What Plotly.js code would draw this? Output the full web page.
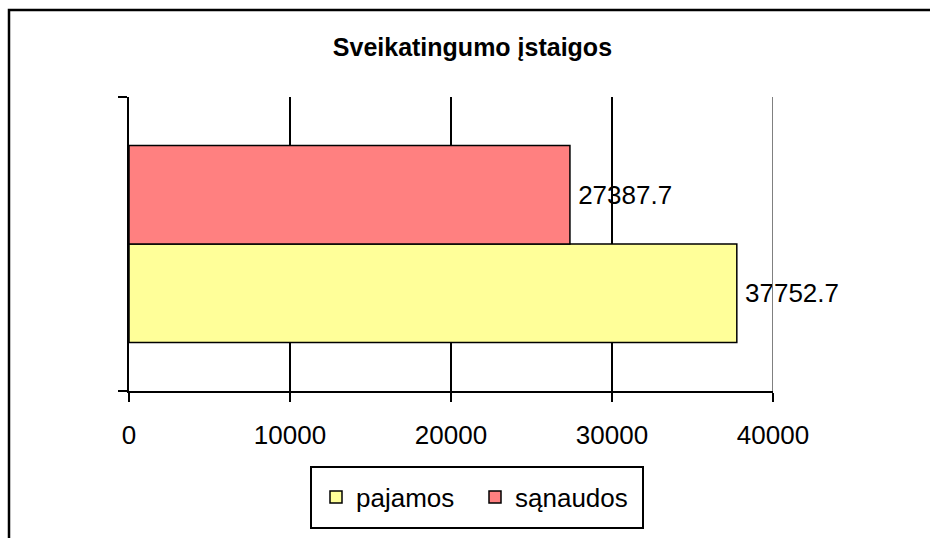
<!DOCTYPE html>
<html>
<head>
<meta charset="utf-8">
<script src="https://cdn.plot.ly/plotly-3.0.1.min.js"></script>
<style>
html,body{margin:0;padding:0;background:#fff;}
#chart{width:930px;height:538px;}
</style>
</head>
<body>
<div id="chart"></div>
<script>
var categories = ["Sveikatingumo įstaigos"];
var seriesNames = ["pajamos", "sąnaudos"];
var pajamos = [37752.7];
var sanaudos = [27387.7];
var xTickValues = [0, 10000, 20000, 30000, 40000];
var xTickLabels = ["0", "10000", "20000", "30000", "40000"];

var FONT = "Liberation Sans, Arial, sans-serif";
var W = 930, H = 538;
var m = {l: 129, r: 157, t: 97, b: 147};
var pw = W - m.l - m.r, ph = H - m.t - m.b;
function px2x(px){ return (px - m.l) / pw; }
function py2y(py){ return (H - m.b - py) / ph; }

var traces = [
  {
    type: "bar", orientation: "h", name: seriesNames[0],
    y: categories, x: pajamos,
    text: pajamos.map(function(v){ return "\u2009" + v; }), textposition: "outside", cliponaxis: false,
    textfont: {family: FONT, size: 26, color: "#000"},
    marker: {color: "#FFFF99", line: {color: "#000", width: 1.5}}
  },
  {
    type: "bar", orientation: "h", name: seriesNames[1],
    y: categories, x: sanaudos,
    text: sanaudos.map(function(v){ return "\u2009" + v; }), textposition: "outside", cliponaxis: false,
    textfont: {family: FONT, size: 26, color: "#000"},
    marker: {color: "#FF8080", line: {color: "#000", width: 1.5}}
  }
];

var layout = {
  width: W, height: H,
  margin: m,
  paper_bgcolor: "#fff", plot_bgcolor: "#fff",
  font: {family: FONT, color: "#000"},
  title: {
    text: "<b>" + categories[0] + "</b>",
    font: {family: FONT, size: 25, color: "#000"},
    x: 0.508, xref: "container", xanchor: "center",
    y: 1 - 47 / H, yref: "container", yanchor: "middle"
  },
  barmode: "group", bargap: 0.33, bargroupgap: 0,
  showlegend: true,
  legend: {
    orientation: "h",
    x: px2x(316), xanchor: "left",
    y: py2y(497), yanchor: "middle",
    borderwidth: 0,
    bgcolor: "rgba(0,0,0,0)",
    font: {family: FONT, size: 26, color: "#000"},
    entrywidth: 114,
    traceorder: "normal"
  },
  xaxis: {
    range: [0, 40000],
    tickvals: xTickValues, ticktext: xTickLabels,
    showgrid: true, gridcolor: "#000", gridwidth: 2,
    zeroline: false,
    showline: true, linecolor: "#000", linewidth: 2,
    ticks: "outside", ticklen: 9, tickwidth: 2, tickcolor: "#000",
    ticklabelstandoff: 11,
    tickfont: {family: FONT, size: 26, color: "#000"},
    fixedrange: true
  },
  yaxis: {
    range: [-0.5, 0.5],
    showticklabels: false,
    ticks: "outside", ticklen: 9, tickwidth: 2, tickcolor: "#000",
    tickson: "boundaries",
    showgrid: false, zeroline: false,
    showline: true, linecolor: "#000", linewidth: 2,
    fixedrange: true
  },
  shapes: [
    {type: "line", xref: "x", yref: "paper", x0: 40000, x1: 40000, y0: 0, y1: 1,
     line: {color: "#808080", width: 2}, layer: "above"},
    {type: "rect", xref: "paper", yref: "paper",
     x0: px2x(311), x1: px2x(643), y0: py2y(467), y1: py2y(528),
     line: {color: "#000", width: 2}, fillcolor: "rgba(0,0,0,0)", layer: "above"},
    {type: "rect", xref: "paper", yref: "paper",
     x0: px2x(9), x1: px2x(945), y0: py2y(10), y1: py2y(560),
     line: {color: "#000", width: 2.5}, fillcolor: "rgba(0,0,0,0)", layer: "above"}
  ]
};

Plotly.newPlot("chart", traces, layout, {displayModeBar: false, staticPlot: true});
</script>
</body>
</html>
